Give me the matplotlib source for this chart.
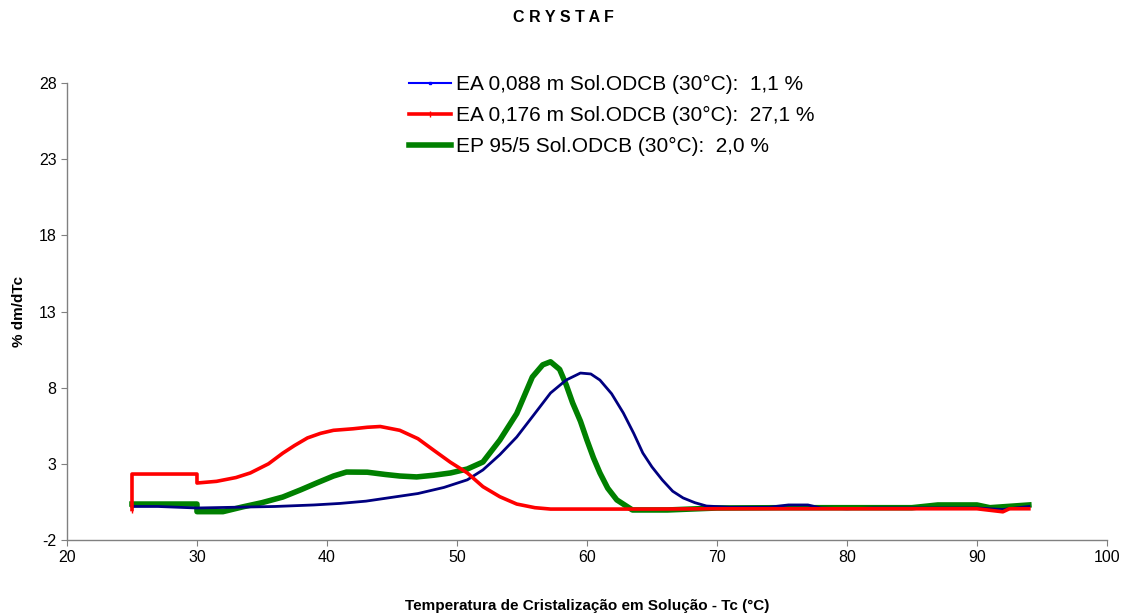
import matplotlib
matplotlib.use("Agg")
import matplotlib.pyplot as plt

plt.rcParams['font.family'] = ['Liberation Sans', 'DejaVu Sans']
plt.rcParams['axes.unicode_minus'] = False

# EA 0,088 m
ea088_x = [25, 27, 30, 33, 36, 39, 41, 43, 45, 47, 49, 50.8, 52, 53.3, 54.6, 55.9, 57.2,
           58.4, 59.5, 60.3, 61.0, 61.9, 62.8, 63.6, 64.3, 65.0, 65.8, 66.6, 67.4, 68.3,
           69.2, 71, 74, 75.5, 77, 78, 80, 82, 85, 88, 90, 92, 94]
ea088_y = [0.2, 0.2, 0.1, 0.15, 0.2, 0.3, 0.4, 0.55, 0.8, 1.05, 1.45, 1.95, 2.6, 3.6, 4.76,
           6.2, 7.65, 8.5, 8.96, 8.9, 8.5, 7.6, 6.34, 5.0, 3.71, 2.8, 1.94, 1.2, 0.76, 0.45,
           0.23, 0.15, 0.15, 0.3, 0.3, 0.1, 0.05, 0.1, 0.1, 0.1, 0.1, 0.0, 0.2]

# EA 0,176 m
ea176_x = [25, 25, 27, 30, 30, 31.5, 33, 34.1, 35.5, 36.6, 37.5, 38.5, 39.5, 40.5, 42, 43.1,
           44.1, 45.6, 47, 48.2, 49.5, 50.8, 52, 53.3, 54.6, 56, 57.2, 60, 65, 70, 75, 80,
           85, 90, 92, 92.5, 94]
ea176_y = [0.0, 2.33, 2.33, 2.33, 1.74, 1.85, 2.1, 2.4, 3.0, 3.7, 4.2, 4.7, 5.0, 5.2, 5.3, 5.4,
           5.45, 5.2, 4.65, 3.9, 3.1, 2.4, 1.5, 0.84, 0.36, 0.12, 0.03, 0.03, 0.03, 0.05, 0.05,
           0.05, 0.05, 0.05, -0.15, 0.05, 0.05]

# EP 95/5
ep955_x = [25, 27, 30, 30, 32, 33.5, 35, 36.6, 38, 39.2, 40.5, 41.5, 43.1, 44.5, 45.6, 46.9,
           48.2, 49.5, 50.8, 52, 53.3, 54.6, 55.8, 56.6, 57.2, 57.9, 58.4, 58.9, 59.5, 60,
           60.5, 61, 61.6, 62.3, 63.5, 65, 66.2, 70, 75, 80, 85, 87, 90, 91, 94]
ep955_y = [0.36, 0.36, 0.36, -0.14, -0.14, 0.17, 0.45, 0.82, 1.3, 1.74, 2.2, 2.46, 2.45, 2.3,
           2.2, 2.14, 2.25, 2.4, 2.66, 3.12, 4.56, 6.3, 8.7, 9.5, 9.7, 9.2, 8.2, 7.0, 5.8, 4.56,
           3.4, 2.4, 1.4, 0.63, -0.03, -0.03, -0.03, 0.1, 0.12, 0.12, 0.12, 0.3, 0.3, 0.12, 0.3]

labels = ["EA 0,088 m Sol.ODCB (30°C):  1,1 %",
          "EA 0,176 m Sol.ODCB (30°C):  27,1 %",
          "EP 95/5 Sol.ODCB (30°C):  2,0 %"]

x_ticks = [20, 30, 40, 50, 60, 70, 80, 90, 100]
y_ticks = [-2, 3, 8, 13, 18, 23, 28]

fig = plt.figure(figsize=(11.26, 6.16), dpi=100)
ax = fig.add_axes([0.0595, 0.1234, 0.9235, 0.7418])

ax.plot(ea088_x, ea088_y, color='#000080', lw=2.0, marker='s', markersize=2,
        markevery=[0], label=labels[0], solid_joinstyle='round')
ax.plot(ea176_x, ea176_y, color='#ff0000', lw=2.6, marker='|', markersize=5,
        markevery=[0], label=labels[1], solid_joinstyle='round')
ax.plot(ep955_x, ep955_y, color='#008000', lw=4.0, label=labels[2],
        solid_joinstyle='round', zorder=1.5)

ax.set_xlim(20, 100)
ax.set_ylim(-2, 28)
ax.set_xticks(x_ticks)
ax.set_yticks(y_ticks)
ax.tick_params(labelsize=11.5, length=4, color='#808080', direction='out')
for s in ['top', 'right']:
    ax.spines[s].set_visible(False)
for s in ['left', 'bottom']:
    ax.spines[s].set_color('#808080')
    ax.spines[s].set_linewidth(1.0)

ax.set_xlabel("Temperatura de Cristalização em Solução - Tc (°C)", fontsize=11,
              fontweight='bold', labelpad=24)
ax.set_ylabel("% dm/dTc", fontsize=11, fontweight='bold', labelpad=9)
fig.text(0.5, 0.971, "C R Y S T A F", ha='center', va='center', fontsize=11.5,
         fontweight='bold')

leg = ax.legend(loc='upper left', bbox_to_anchor=(0.321, 1.035), frameon=False,
                fontsize=15, handlelength=2.0, handletextpad=0.25, labelspacing=0.57,
                borderaxespad=0)
leg.get_lines()[0].set_linewidth(1.5)
leg.get_lines()[0].set_color('#0000ff')

fig.savefig("out.png", dpi=100)
